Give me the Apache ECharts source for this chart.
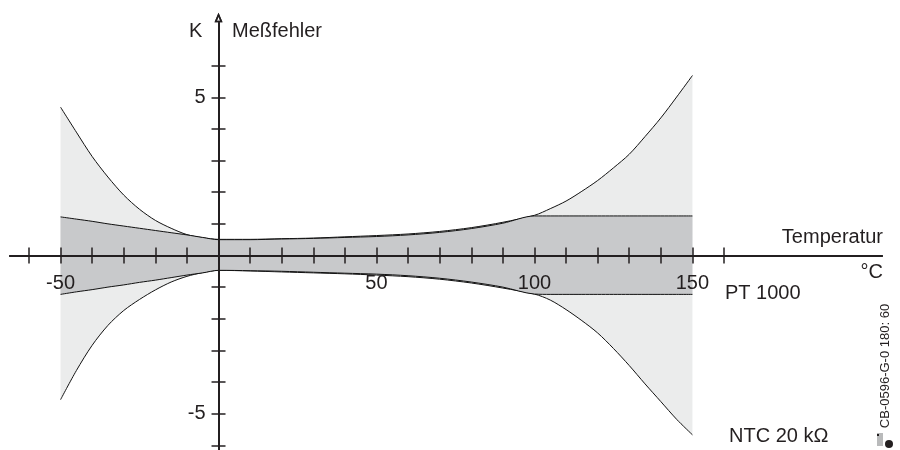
<!DOCTYPE html>
<html>
<head>
<meta charset="utf-8">
<title>Meßfehler PT 1000 / NTC 20 kΩ</title>
<script src="https://cdn.jsdelivr.net/npm/echarts@6/dist/echarts.min.js"></script>
<style>
  html, body { margin: 0; background: #fff; }
  #chart { width: 900px; height: 450px; }
</style>
</head>
<body>
<div id="chart"></div>
<script>
// Temperatur in °C
const temps = [-50, -45, -40, -35, -30, -25, -20, -15, -10, -5, 0,
  10, 20, 30, 40, 50, 60, 70, 80, 90, 100,
  105, 110, 115, 120, 125, 130, 135, 140, 145, 150]

// NTC 20 kOhm, Fehlergrenzen in K
const ntcUpper = [4.69, 3.90, 3.13, 2.48, 1.91, 1.46, 1.11, 0.86, 0.66, 0.56, 0.51,
  0.51, 0.53, 0.55, 0.59, 0.63, 0.68, 0.76, 0.88, 1.05, 1.27,
  1.48, 1.72, 2.03, 2.37, 2.77, 3.20, 3.76, 4.35, 5.01, 5.69]
const ntcLower = [-4.56, -3.64, -2.84, -2.21, -1.74, -1.39, -1.09, -0.84, -0.66, -0.54, -0.47,
  -0.49, -0.52, -0.55, -0.58, -0.62, -0.67, -0.75, -0.87, -1.03, -1.22,
  -1.41, -1.71, -2.06, -2.45, -2.94, -3.48, -4.06, -4.62, -5.18, -5.67]

// PT 1000, Fehlergrenzen in K
const ptUpper = [1.22, 1.15, 1.08, 1.00, 0.93, 0.86, 0.79, 0.72, 0.65, 0.57, 0.50,
  0.50, 0.52, 0.54, 0.57, 0.60, 0.65, 0.73, 0.85, 1.02, 1.25,
  1.25, 1.25, 1.25, 1.25, 1.25, 1.25, 1.25, 1.25, 1.25, 1.25]
const ptLower = [-1.23, -1.15, -1.08, -1.00, -0.93, -0.85, -0.78, -0.70, -0.62, -0.55, -0.47,
  -0.48, -0.50, -0.53, -0.56, -0.59, -0.64, -0.72, -0.84, -1.00, -1.22,
  -1.23, -1.23, -1.23, -1.23, -1.23, -1.23, -1.23, -1.23, -1.23, -1.23]

const xTicks = [-60, -50, -40, -30, -20, -10, 0, 10, 20, 30, 40, 50, 60, 70, 80, 90, 100, 110, 120, 130, 140, 150, 160]
const xLabels = [-50, 50, 100, 150]
const yTicks = [-6, -5, -4, -3, -2, -1, 0, 1, 2, 3, 4, 5, 6]
const yLabels = [-5, 5]

const ink = '#231f20'
const lightFill = '#ebecec'
const darkFill = '#c8c9cb'
const font = 'Liberation Sans, Arial, Helvetica, sans-serif'
const fontSize = 20

// Achsbereiche und Zeichenfläche
const W = 900
const H = 450
const grid = { left: 10, right: 18, top: 23, bottom: 0 }
const xRange = [-66, 210]
const yRange = [-6.15, 7.35]

// die Achsen kreuzen sich im Nullpunkt: Versatz von der Gitterkante dorthin
const zeroY = grid.top + (H - grid.top - grid.bottom) * yRange[1] / (yRange[1] - yRange[0])
const zeroX = grid.left + (W - grid.left - grid.right) * -xRange[0] / (xRange[1] - xRange[0])
const xOffset = -(H - grid.bottom - zeroY)
const yOffset = -(zeroX - grid.left)

const chart = echarts.init(document.getElementById('chart'), null, { renderer: 'canvas' })

function xAxis(inside, showLabel) {
  return {
    type: 'value',
    position: 'bottom',
    offset: xOffset,
    min: xRange[0],
    max: xRange[1],
    z: 10,
    axisLine: { onZero: false, lineStyle: { color: ink, width: 2 } },
    axisTick: { inside: inside, length: 8, customValues: xTicks, lineStyle: { color: ink, width: 1.5 } },
    axisLabel: {
      show: showLabel, customValues: xLabels, margin: 18,
      color: ink, fontSize: fontSize, fontFamily: font
    },
    splitLine: { show: false }
  }
}

function yAxis(inside, showLabel) {
  return {
    type: 'value',
    position: 'left',
    offset: yOffset,
    min: yRange[0],
    max: yRange[1],
    z: 10,
    axisLine: {
      onZero: false,
      symbol: ['none', 'path://M5,0 L10,12 L0,12 Z M5,5 L3,10 L7,10 Z'],
      symbolSize: [8, 11],
      symbolOffset: [0, 5.5],
      lineStyle: { color: ink, width: 2 }
    },
    axisTick: { inside: inside, length: 7, customValues: yTicks, lineStyle: { color: ink, width: 1.5 } },
    axisLabel: {
      show: showLabel, customValues: yLabels, margin: 13,
      color: ink, fontSize: fontSize, fontFamily: font
    },
    splitLine: { show: false }
  }
}

function band(name, values, fill, z) {
  return {
    name: name,
    type: 'line',
    xAxisIndex: 0,
    yAxisIndex: 0,
    data: temps.map((t, i) => [t, values[i]]),
    smooth: 0.3,
    symbol: 'none',
    z: z,
    lineStyle: { color: '#111', width: 1 },
    areaStyle: { color: fill, opacity: 1, origin: 'auto' },
    silent: true
  }
}

function label(text, x, y, align, size) {
  return {
    type: 'text', x: x, y: y,
    style: { text: text, font: (size || fontSize) + 'px ' + font, fill: ink, align: align, verticalAlign: 'middle' }
  }
}

chart.setOption({
  animation: false,
  grid: Object.assign({ containLabel: false, outerBoundsMode: 'none' }, grid),
  xAxis: [xAxis(true, true), xAxis(false, false)],
  yAxis: [yAxis(true, true), yAxis(false, false)],
  series: [
    band('NTC 20 kΩ oben', ntcUpper, lightFill, 2),
    band('NTC 20 kΩ unten', ntcLower, lightFill, 2),
    band('PT 1000 oben', ptUpper, darkFill, 3),
    band('PT 1000 unten', ptLower, darkFill, 3)
  ],
  graphic: [
    label('K', 189, 31, 'left'),
    label('Meßfehler', 232, 31, 'left'),
    label('Temperatur', 883, 237, 'right'),
    label('°C', 883, 272, 'right'),
    label('PT 1000', 725, 293, 'left'),
    label('NTC 20 kΩ', 729, 436, 'left'),
    Object.assign(label('CB-0596-G-0 180: 60', 885, 366, 'center', 13), { rotation: Math.PI / 2 }),
    { type: 'rect', shape: { x: 877, y: 433, width: 6, height: 13 }, style: { fill: '#b9babb' } },
    { type: 'rect', shape: { x: 877, y: 434, width: 2, height: 2 }, style: { fill: ink } },
    { type: 'circle', shape: { cx: 889, cy: 444, r: 4 }, style: { fill: ink } }
  ]
})
</script>
</body>
</html>
